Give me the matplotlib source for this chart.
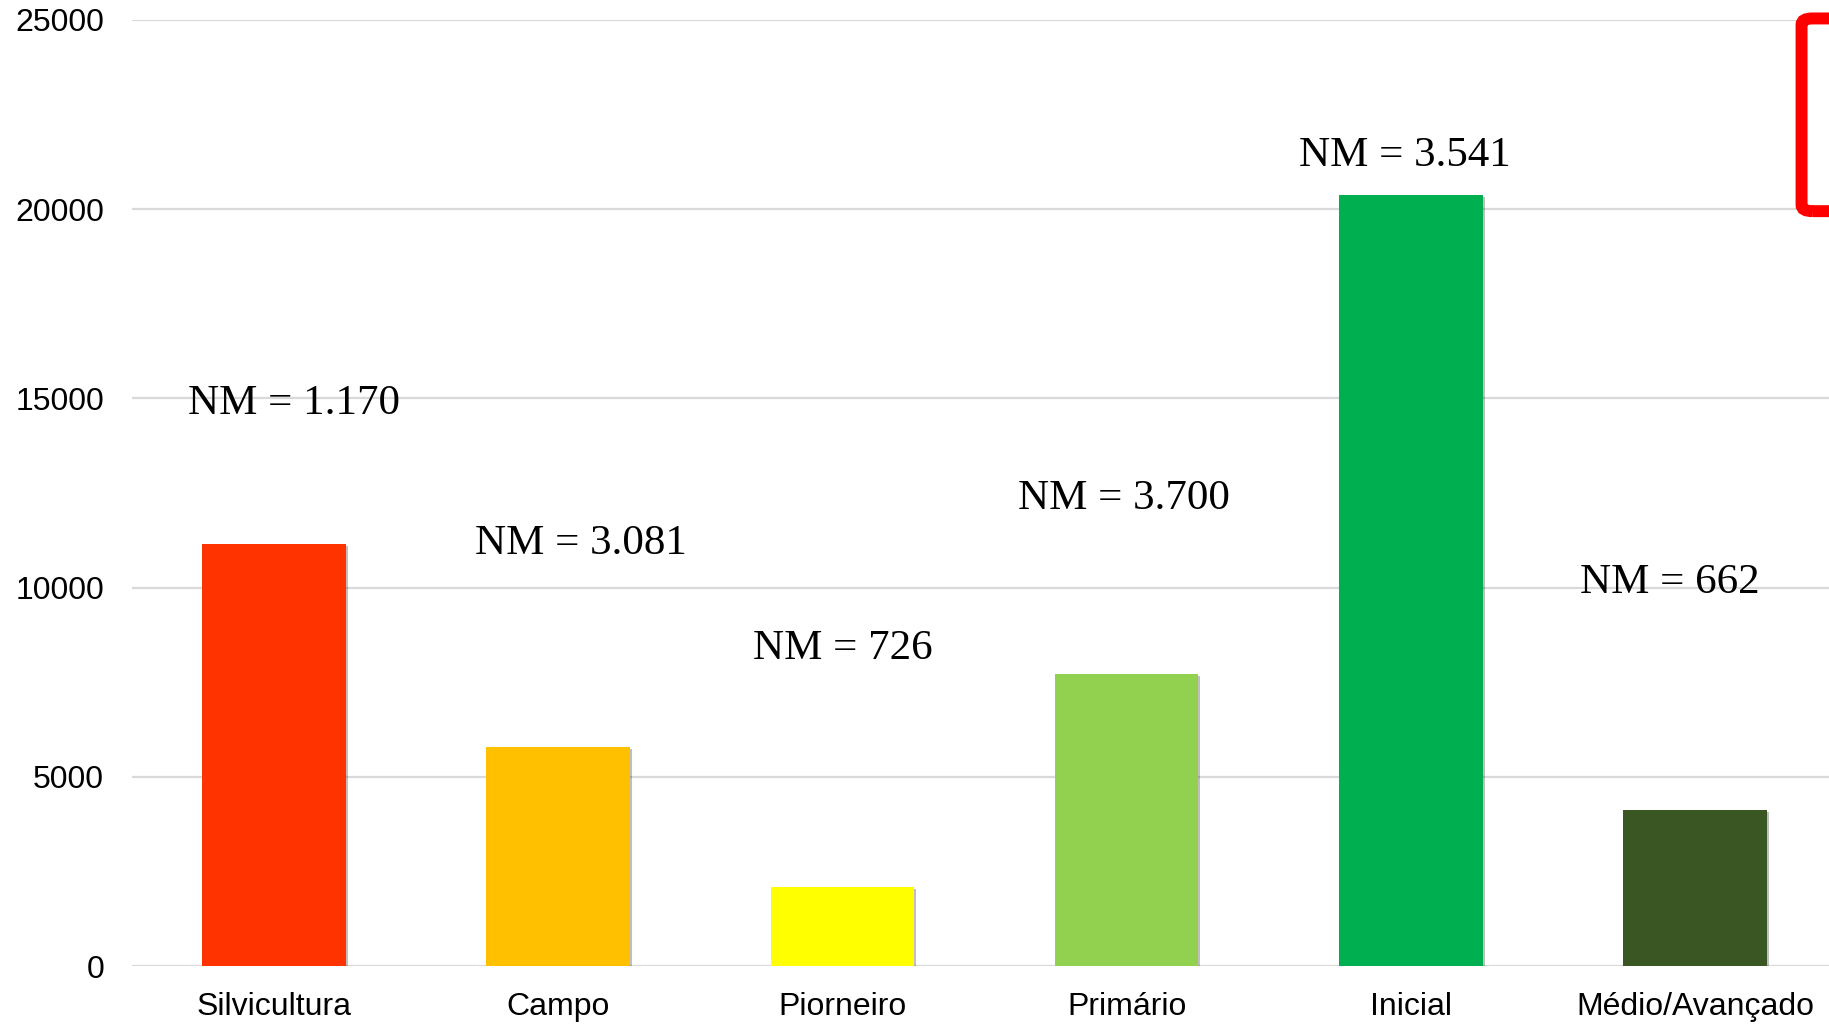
#!/usr/bin/env python

import numpy as np
import matplotlib
matplotlib.use("Agg")
import matplotlib.pyplot as plt
from matplotlib.patches import FancyBboxPatch
from matplotlib import patheffects

# data
categories = ["Silvicultura", "Campo", "Piorneiro", "Primário", "Inicial", "Médio/Avançado"]
values = [11150, 5780, 2090, 7720, 20370, 4130]
nm_labels = ["NM = 1.170", "NM = 3.081", "NM = 726", "NM = 3.700", "NM = 3.541", "NM = 662"]
yticks = [0, 5000, 10000, 15000, 20000, 25000]

colors = ["#FF3300", "#FFC000", "#FFFF00", "#92D050", "#00B050", "#3A5723"]
# where the NM texts sit (x offset from bar centre, y in data units)
nm_dx = [0.07, 0.08, 0.0, -0.01, -0.02, -0.09]
nm_y = [14860, 11160, 8380, 12340, 21410, 10120]


def main():
    fig = plt.figure(figsize=(18.29, 10.25), dpi=100)
    # axes runs a bit past the right border, like the original slide
    ax = fig.add_axes([132 / 1829, 59 / 1025, 1705 / 1829, 946 / 1025])

    x = np.arange(len(categories))
    bars = ax.bar(x, values, width=0.505, color=colors, zorder=3)
    for b in bars:
        b.set_path_effects([patheffects.SimplePatchShadow(offset=(1.5, -1.5), alpha=0.25, shadow_rgbFace="k"),
                            patheffects.Normal()])

    ax.set_xlim(-0.5, 5.5)
    ax.set_ylim(0, 25000)
    ax.set_yticks(yticks)
    ax.set_yticklabels([str(v) for v in yticks], fontsize=23, family="Liberation Sans")
    ax.set_xticks(x)
    ax.set_xticklabels(categories, fontsize=23, family="Liberation Sans")
    ax.tick_params(length=0)
    ax.tick_params(axis="y", pad=20)
    ax.tick_params(axis="x", pad=19)
    for s in ax.spines.values():
        s.set_visible(False)
    ax.grid(axis="y", color="#D9D9D9", linewidth=1.6, zorder=0)
    ax.set_axisbelow(True)

    for i in range(len(categories)):
        ax.text(x[i] + nm_dx[i], nm_y[i], nm_labels[i], fontsize=31,
                family="Liberation Serif", ha="center", va="center", zorder=4)

    # red frame cut off at the right edge
    frame = FancyBboxPatch((0.985, 0.794), 0.08, 0.188, boxstyle="round,pad=0,rounding_size=0.006",
                           transform=fig.transFigure, facecolor="none", edgecolor="#FF0000",
                           linewidth=8.6, clip_on=False)
    fig.patches.append(frame)

    fig.savefig("out.png", dpi=100, facecolor="white")
    return True


if __name__ == "__main__":
    main()
